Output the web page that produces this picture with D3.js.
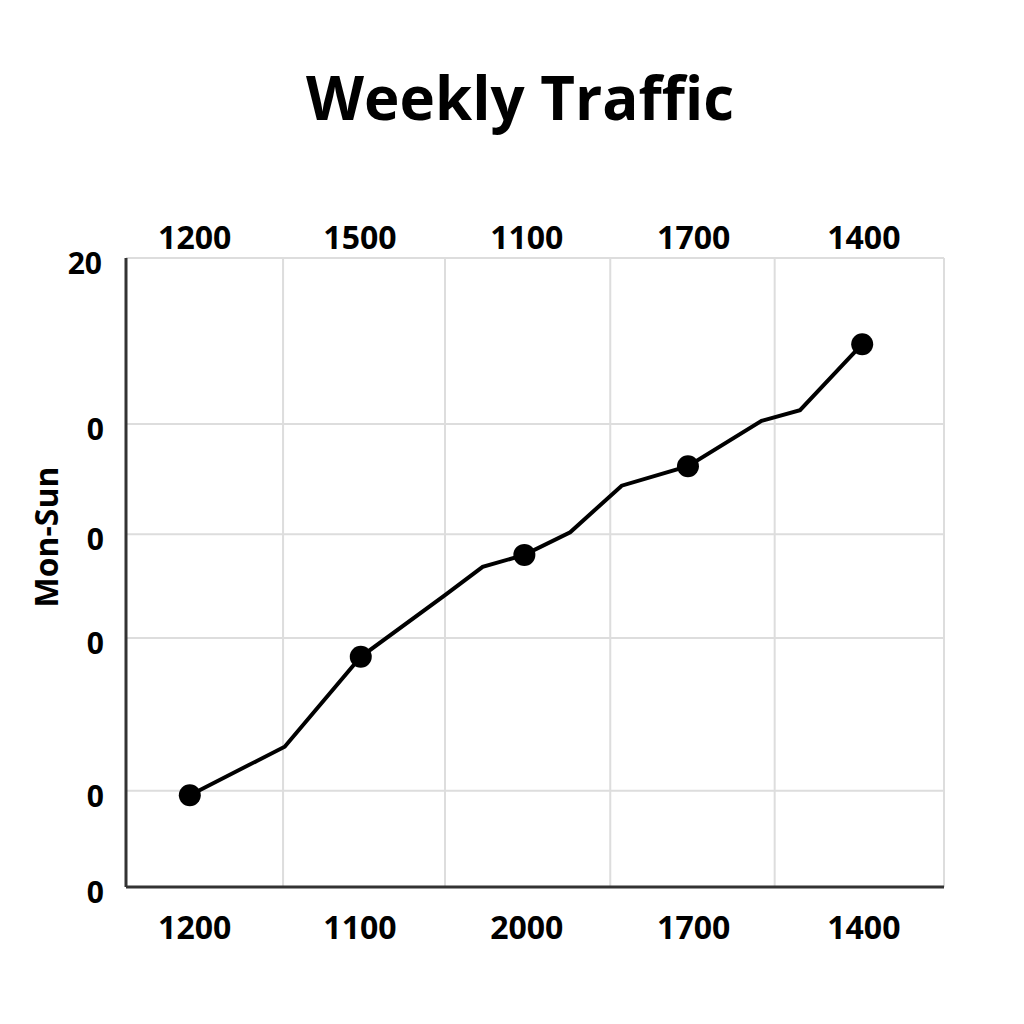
<!DOCTYPE html>
<html><head><meta charset="utf-8">
<script src="https://cdn.jsdelivr.net/npm/d3@7"></script>
<style>body{margin:0;background:#fff}text{font-family:"Open Sans",sans-serif;font-weight:700}</style>
</head><body>
<svg id="chart" width="1024" height="1024"></svg>
<script>
// data (plot units 0..100)
var linea_x = [7.8, 19.4, 28.7, 39, 43.6, 48.7, 54.3, 60.6, 68.7, 77.7, 82.4, 90]
var linea_y = [14.6, 22.3, 36.6, 46.4, 50.9, 52.8, 56.4, 63.8, 66.9, 74.1, 75.8, 86.3]
var marcas = [0, 2, 5, 8, 11]
var grid_x = [19.2, 39, 59.2, 79.3, 100]
var grid_y = [15.3, 39.6, 56.1, 73.6, 100]
var etiq_pos = [8.4, 28.6, 49, 69.4, 90.2]
var etiq_arriba = ['1200', '1500', '1100', '1700', '1400']
var etiq_abajo = ['1200', '1100', '2000', '1700', '1400']
var etiq_y_pos = [0, 15.3, 39.6, 56.1, 73.6, 100]
var etiq_y = ['0', '0', '0', '0', '0', '20']

var svg = d3.select('#chart')
var x = d3.scaleLinear().domain([0, 100]).range([126, 944])
var y = d3.scaleLinear().domain([0, 100]).range([887, 258])

svg.append('text').attr('x', 520).attr('y', 120).attr('text-anchor', 'middle')
    .style('font-size', '60px').text('Weekly Traffic')

// rejilla
svg.selectAll('.gx').data(grid_x).enter().append('line')
    .attr('x1', d => x(d)).attr('x2', d => x(d)).attr('y1', y(100)).attr('y2', y(0))
    .attr('stroke', '#ddd').attr('stroke-width', 2)
svg.selectAll('.gy').data(grid_y).enter().append('line')
    .attr('x1', x(0)).attr('x2', x(100)).attr('y1', d => y(d)).attr('y2', d => y(d))
    .attr('stroke', '#ddd').attr('stroke-width', 2)

// ejes
svg.append('line').attr('x1', x(0)).attr('x2', x(0)).attr('y1', y(100)).attr('y2', y(0))
    .attr('stroke', '#333').attr('stroke-width', 3)
svg.append('line').attr('x1', x(0)).attr('x2', x(100)).attr('y1', y(0)).attr('y2', y(0))
    .attr('stroke', '#333').attr('stroke-width', 3)

svg.selectAll('.ta').data(etiq_arriba).enter().append('text')
    .attr('x', (d, i) => x(etiq_pos[i])).attr('y', 249).attr('text-anchor', 'middle')
    .style('font-size', '32px').text(d => d)
svg.selectAll('.tb').data(etiq_abajo).enter().append('text')
    .attr('x', (d, i) => x(etiq_pos[i])).attr('y', 939).attr('text-anchor', 'middle')
    .style('font-size', '32px').text(d => d)
svg.selectAll('.ty').data(etiq_y).enter().append('text')
    .attr('x', (d, i) => i == 5 ? 102 : 104).attr('y', (d, i) => y(etiq_y_pos[i]) + 16)
    .attr('text-anchor', 'end').style('font-size', '30px').text(d => d)

svg.append('text').attr('transform', 'translate(58,537) rotate(-90)')
    .attr('text-anchor', 'middle').style('font-size', '32px').text('Mon-Sun')

var puntos = linea_x.map((v, i) => [v, linea_y[i]])
svg.append('path').datum(puntos)
    .attr('d', d3.line().x(d => x(d[0])).y(d => y(d[1])))
    .attr('fill', 'none').attr('stroke', '#000').attr('stroke-width', 4)
svg.selectAll('.m').data(marcas).enter().append('circle')
    .attr('cx', d => x(linea_x[d])).attr('cy', d => y(linea_y[d])).attr('r', 11).attr('fill', '#000')
</script>
</body></html>
